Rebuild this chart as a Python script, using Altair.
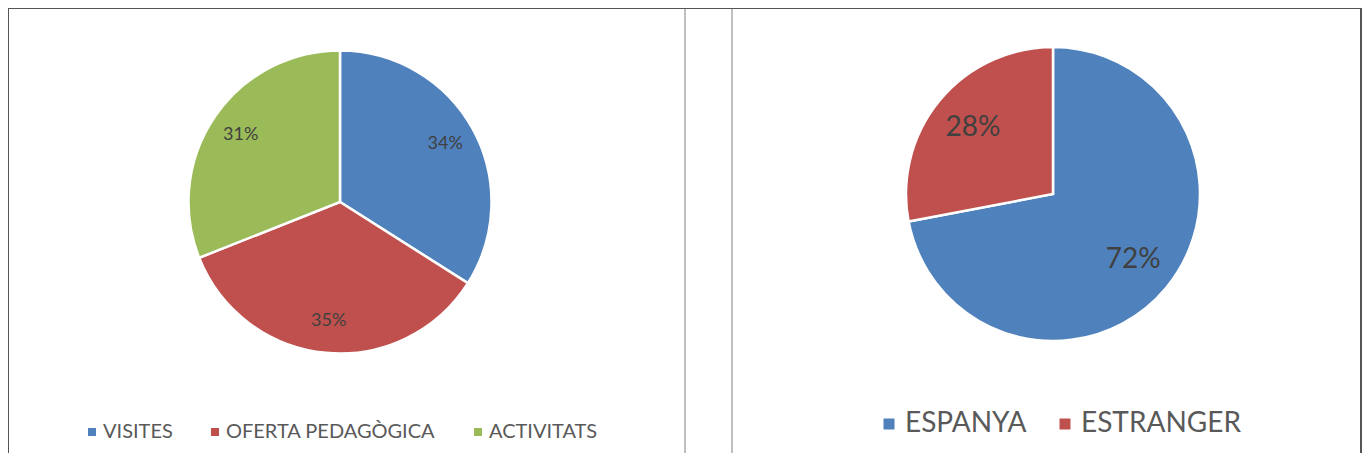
import altair as alt
import pandas as pd

# ---- data ----
left_cats = ["VISITES", "OFERTA PEDAGÒGICA", "ACTIVITATS"]
left_vals = [34, 35, 31]
left_labels = ["34%", "35%", "31%"]
left_colors = ["#4F81BD", "#C0504D", "#9BBB59"]

right_cats = ["ESPANYA", "ESTRANGER"]
right_vals = [72, 28]
right_labels = ["72%", "28%"]
right_colors = ["#4F81BD", "#C0504D"]

W, H = 1354, 445
FONT = "Lato"


def make_df(cats, vals, labels):
    return pd.DataFrame({"cat": cats, "val": vals, "label": labels,
                         "ord": list(range(len(cats)))})


def pie(df, cats, colors, cx, cy, r, lr, label_size, legend):
    base = alt.Chart(df).encode(
        theta=alt.Theta("val:Q", stack=True),
        order=alt.Order("ord:Q"),
    )
    arc = base.mark_arc(radius=r, stroke="white", strokeWidth=2.5).encode(
        x=alt.value(cx), y=alt.value(cy),
        color=alt.Color("cat:N", scale=alt.Scale(domain=cats, range=colors),
                        sort=cats, legend=legend),
    )
    txt = base.mark_text(radius=lr, font=FONT, fontSize=label_size,
                         color="#404040", align="center", baseline="middle").encode(
        x=alt.value(cx), y=alt.value(cy), text="label:N",
    )
    return [arc, txt]


def legend(x, y, size, sym, off, pad):
    return alt.Legend(orient="none", legendX=x, legendY=y, direction="horizontal",
                      title=None, symbolType="square", symbolSize=sym,
                      symbolStrokeWidth=0, labelFont=FONT, labelFontSize=size,
                      labelColor="#595959", labelOffset=off, columnPadding=pad,
                      labelLimit=500, padding=0)


left_layers = pie(make_df(left_cats, left_vals, left_labels), left_cats, left_colors,
                  332, 194, 151.5, 120, 18,
                  legend(74, 414, 20, 64, 1, 32))
right_layers = pie(make_df(right_cats, right_vals, right_labels), right_cats, right_colors,
                   1045, 186, 147, 104, 28,
                   legend(867, 402, 28, 121, 2, 24))

one = pd.DataFrame({"k": [0]})
dark = alt.Chart(one).mark_rule(color="#555555", strokeWidth=2)
light = alt.Chart(one).mark_rule(color="#BFBFBF", strokeWidth=2)
frame = [
    dark.encode(x=alt.value(0), x2=alt.value(W), y=alt.value(0)),
    dark.encode(x=alt.value(0), y=alt.value(0), y2=alt.value(H)),
    dark.encode(x=alt.value(W - 1), y=alt.value(0), y2=alt.value(H)),
    light.encode(x=alt.value(677), y=alt.value(1), y2=alt.value(H)),
    light.encode(x=alt.value(724), y=alt.value(1), y2=alt.value(H)),
]

chart = alt.layer(*left_layers, *right_layers, *frame).resolve_scale(
    color="independent"
).properties(
    width=W, height=H, padding=0, autosize=alt.AutoSizeParams(type="none"),
    background="white",
).configure_view(stroke=None)

chart.save("out.html", embed_options={"renderer": "svg", "actions": False})
